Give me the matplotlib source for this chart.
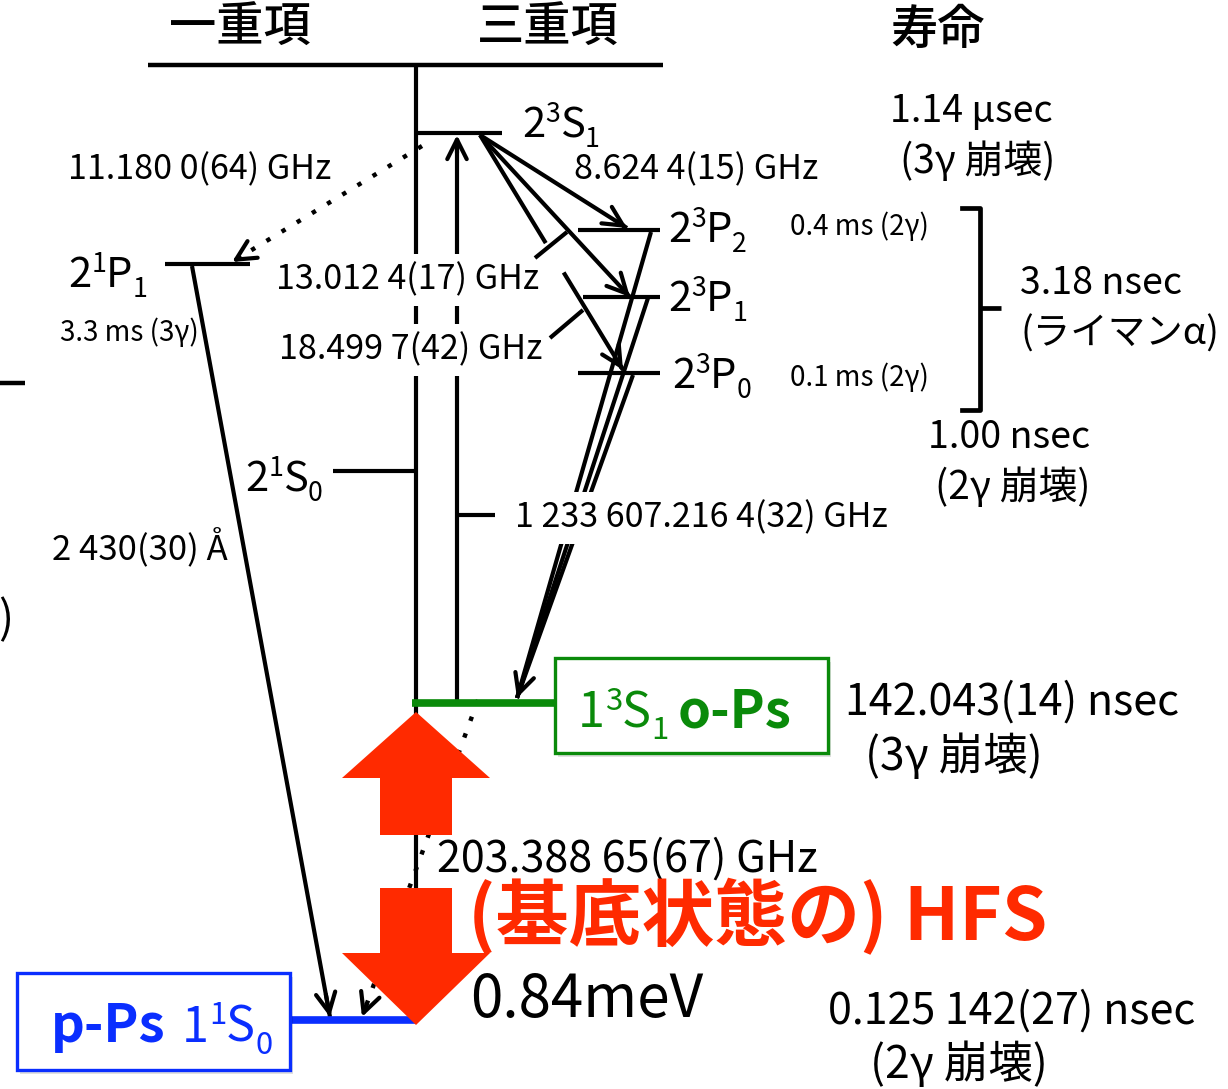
import re
import matplotlib
matplotlib.use("Agg")
import matplotlib.pyplot as plt
from matplotlib.patches import Polygon, Rectangle

plt.rcParams['font.family'] = ['Noto Sans CJK JP', 'DejaVu Sans']

# ---------------- content ----------------
column_titles = ["一重項", "三重項", "寿命"]

# term symbols: "^x" is a superscript, "_x" a subscript
state_23S1 = "2^3S_1"
state_21P1 = "2^1P_1"
state_21S0 = "2^1S_0"
states_23P = ["2^3P_2", "2^3P_1", "2^3P_0"]
state_13S1 = "1^3S_1"
state_11S0 = "1^1S_0"
name_ortho = "o-Ps"
name_para = "p-Ps"

fine_structure = ["8.624 4(15) GHz", "13.012 4(17) GHz", "18.499 7(42) GHz"]
singlet_p_gap = "11.180 0(64) GHz"
n2_interval = "1 233 607.216 4(32) GHz"
singlet_lyman = "2 430(30) Å"
hfs_frequency = "203.388 65(67) GHz"
hfs_title = "(基底状態の) HFS"
hfs_energy = "0.84meV"

p_state_lifetimes = ["0.4 ms (2γ)", "0.1 ms (2γ)"]
singlet_p_lifetime = "3.3 ms (3γ)"
lifetime_23S1 = ["1.14 μsec", "(3γ 崩壊)"]
lifetime_23P = ["3.18 nsec", "(ライマンα)"]
lifetime_21S0 = ["1.00 nsec", "(2γ 崩壊)"]
lifetime_ortho = ["142.043(14) nsec", "(3γ 崩壊)"]
lifetime_para = ["0.125 142(27) nsec", "(2γ 崩壊)"]

# ---------------- styles ----------------
BLACK = "black"
GREEN = "#0A8A0A"
BLUE = "#0A2EFF"
RED = "#FF2A00"
LW = 3.0

W, H = 1228, 1089
fig = plt.figure(figsize=(W / 100, H / 100), dpi=100)
ax = fig.add_axes([0, 0, 1, 1])
ax.set_xlim(0, W)
ax.set_ylim(H, 0)
ax.axis("off")
renderer = fig.canvas.get_renderer()

# ---------------- layout (pixel grid) ----------------
X_MAIN, X_SEC = 416, 457
Y_TOP, Y_23S1, Y_21P1, Y_21S0 = 65, 133, 264, 471
Y_23P = [230, 297, 373]
Y_OPS, Y_PPS = 703, 1020


def seg(x0, y0, x1, y1, color=BLACK, lw=LW, z=2, **kw):
    ax.plot([x0, x1], [y0, y1], color=color, lw=lw, solid_capstyle="butt", zorder=z, **kw)


def head(x0, y0, x1, y1, z=2):
    ax.annotate("", xy=(x1, y1), xytext=(x0, y0), zorder=z,
                arrowprops=dict(arrowstyle="->,head_length=1.0,head_width=0.5",
                                lw=LW, color=BLACK, shrinkA=0, shrinkB=0,
                                mutation_scale=14))


def arrow(x0, y0, x1, y1, z=2):
    seg(x0, y0, x1, y1, z=z)
    t = 0.97
    head(x0 + (x1 - x0) * t, y0 + (y1 - y0) * t, x1, y1, z=z)


def dotted_arrow(x0, y0, x1, y1, z=2):
    ax.plot([x0, x1], [y0, y1], color=BLACK, lw=3.2, ls=(0, (1, 3)),
            dash_capstyle="butt", zorder=z)
    t = 0.96
    head(x0 + (x1 - x0) * t, y0 + (y1 - y0) * t, x1, y1, z=z)


def label(x, y, s, size, color=BLACK, weight="normal", z=6, bg=False, **kw):
    bbox = dict(fc="white", ec="none", pad=6) if bg else None
    ax.text(x, y, s, fontsize=size, color=color, weight=weight, ha="left",
            va="center", zorder=z, bbox=bbox, **kw)


def term(x, y_base, spec, size, color=BLACK, z=6):
    """Draw a term symbol such as 2^3S_1 piece by piece from a baseline."""
    em = size * 100 / 72
    for sup, sub, base in re.findall(r"\^(.)|_(.)|([^^_]+)", spec):
        if sup:
            s, fs, dy = sup, size * 0.64, -0.36 * em
        elif sub:
            s, fs, dy = sub, size * 0.64, 0.25 * em
        else:
            s, fs, dy = base, size, 0
        t = ax.text(x, y_base + dy, s, fontsize=fs, color=color, ha="left",
                    va="baseline", zorder=z)
        x += t.get_window_extent(renderer).width


def fat_arrow(xc, y_tip, y_neck, y_end, head_half, shaft_half):
    pts = [(xc, y_tip), (xc + head_half, y_neck), (xc + shaft_half, y_neck),
           (xc + shaft_half, y_end), (xc - shaft_half, y_end),
           (xc - shaft_half, y_neck), (xc - head_half, y_neck)]
    ax.add_patch(Polygon(pts, closed=True, fc=RED, ec="none", zorder=7))


# column header
seg(148, Y_TOP, 663, Y_TOP, lw=3.2)
ax.text(240, 28, column_titles[0], fontsize=34, weight="medium", ha="center", va="center")
ax.text(548, 28, column_titles[1], fontsize=34, weight="medium", ha="center", va="center")
ax.text(938, 30, column_titles[2], fontsize=34, weight="medium", ha="center", va="center")

# spine of the diagram
seg(X_MAIN, Y_TOP, X_MAIN, Y_PPS)
seg(X_SEC, Y_OPS, X_SEC, Y_23S1 + 6)
head(X_SEC, Y_23S1 + 20, X_SEC, Y_23S1 + 2)

# n=2 levels
seg(X_MAIN, Y_23S1, 502, Y_23S1)
seg(165, Y_21P1, 250, Y_21P1)
seg(333, Y_21S0, X_MAIN, Y_21S0)
seg(X_SEC, 515, 495, 515)
p_x = [(578, 660), (583, 660), (578, 660)]
for (xa, xb), y in zip(p_x, Y_23P):
    seg(xa, y, xb, y)

# 2^3S1 -> 2^3P_J transitions
src = (480, 135)
arrow(*src, 627, Y_23P[0] - 2)
arrow(*src, 630, Y_23P[1])
p0_end = (623, Y_23P[2] - 3)
t_gap = (0.46, 0.585)
gx = [src[0] + (p0_end[0] - src[0]) * t for t in t_gap]
gy = [src[1] + (p0_end[1] - src[1]) * t for t in t_gap]
seg(src[0], src[1], gx[0], gy[0])
arrow(gx[1], gy[1], *p0_end)

# pointer ticks for the fine-structure labels
seg(535, 258, 567, 232, z=4)
seg(550, 338, 583, 310, z=4)

# 2^3P_J -> 1^3S1 (Lyman alpha)
ops_tip = (517, 698)
for start in [(651, 232), (648, 298), (633, 375)]:
    seg(*start, *ops_tip)
head(523, 680, *ops_tip)

# 2^3S1 -> 2^1P1 (dotted) and 2^1P1 -> 1^1S0
dotted_arrow(422, 146, 232, 262)
arrow(192, 266, 330, 1017)

# 1^3S1 -> 1^1S0 (dotted)
dotted_arrow(478, 700, 362, 1017)

# ground-state levels
seg(412, Y_OPS, 556, Y_OPS, color=GREEN, lw=5.5, z=3)
seg(288, Y_PPS, X_MAIN, Y_PPS, color=BLUE, lw=5.5, z=3)

# boxes with state names
for (x0, y0, w, h, c) in [(555, 658, 273, 95, GREEN), (17, 973, 273, 97, BLUE)]:
    ax.add_patch(Rectangle((x0 + 3, y0 + 4), w, h, fc="#000000", alpha=0.12,
                           ec="none", zorder=3))
    ax.add_patch(Rectangle((x0, y0), w, h, fc="white", ec=c, lw=2.4, zorder=4))
term(578, 727, state_13S1, 35, color=GREEN)
ax.text(678, 727, name_ortho, fontsize=38, color=GREEN, weight="bold",
        ha="left", va="baseline", zorder=6)
ax.text(51, 1042, name_para, fontsize=38, color=BLUE, weight="bold",
        ha="left", va="baseline", zorder=6)
term(182, 1042, state_11S0, 35, color=BLUE)

# HFS double arrow
fat_arrow(X_MAIN, 712, 778, 835, 74, 36)
fat_arrow(X_MAIN, 1025, 953, 888, 74, 36)

# state labels
term(522, 137, state_23S1, 30)
term(68, 287, state_21P1, 30)
term(245, 491, state_21S0, 30)
for s, yb, x in zip(states_23P, [242, 311, 388], [668, 668, 672]):
    term(x, yb, s, 30)

# frequencies
label(68, 170, singlet_p_gap, 24.5)
label(574, 170, fine_structure[0], 24.5)
label(276, 280, fine_structure[1], 24.5, bg=True, z=3)
label(279, 350, fine_structure[2], 24.5, bg=True, z=3)
label(515, 518, n2_interval, 24.5, bg=True, z=3)
label(52, 548, singlet_lyman, 25)
label(437, 860, hfs_frequency, 31)
label(468, 918, hfs_title, 52.5, color=RED, weight="bold", z=8)
label(470, 1000, hfs_energy, 42)

# lifetimes
label(60, 333, singlet_p_lifetime, 20)
label(790, 227, p_state_lifetimes[0], 20)
label(790, 378, p_state_lifetimes[1], 20)
label(890, 112, lifetime_23S1[0], 27)
label(900, 162, lifetime_23S1[1], 28)
label(1020, 284, lifetime_23P[0], 27)
label(1020, 334, lifetime_23P[1], 27)
label(928, 438, lifetime_21S0[0], 27)
label(935, 488, lifetime_21S0[1], 28)
label(845, 703, lifetime_ortho[0], 31)
label(865, 757, lifetime_ortho[1], 32)
label(828, 1012, lifetime_para[0], 31)
label(870, 1065, lifetime_para[1], 32)

# bracket grouping the 2^3P lifetimes
ax.plot([962, 980, 980, 962], [208, 208, 410, 410], color=BLACK, lw=3.4,
        solid_joinstyle="round", zorder=2)
seg(980, 308, 1001, 308, lw=3.4)

# fragments at the left edge
seg(0, 383, 25, 383, lw=3.2)
ax.text(-2, 620, ")", fontsize=32, ha="left", va="center")

fig.savefig("out.png", dpi=100)
